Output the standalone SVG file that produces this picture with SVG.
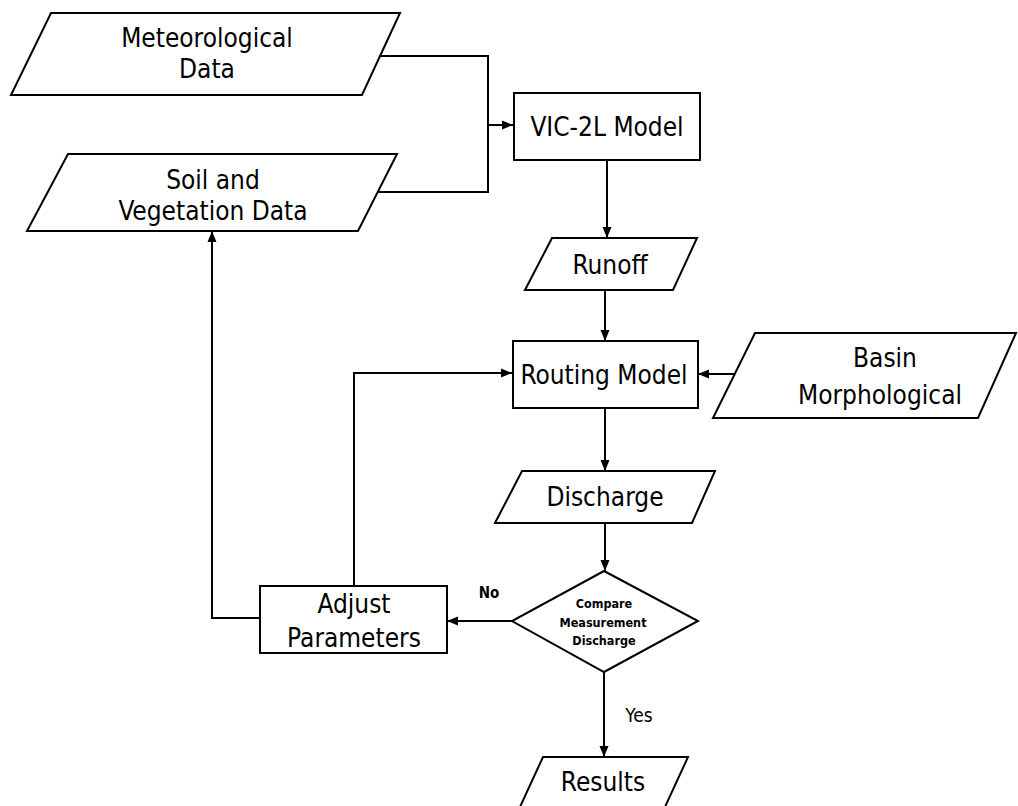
<svg xmlns="http://www.w3.org/2000/svg" width="1018" height="806" viewBox="0 0 1018 806">
<style>
.shape{fill:#fff;stroke:#000;stroke-width:2}
.conn{fill:none;stroke:#000;stroke-width:2}
.t{font-family:"DejaVu Sans Condensed","DejaVu Sans",sans-serif;font-size:26px;fill:#000;text-anchor:middle}
.s{font-family:"DejaVu Sans Condensed","DejaVu Sans",sans-serif;font-size:12.5px;font-weight:bold;fill:#000;text-anchor:middle}
.no{font-family:"DejaVu Sans Condensed","DejaVu Sans",sans-serif;font-size:15px;font-weight:bold;fill:#000;text-anchor:middle}
.yes{font-family:"DejaVu Sans Condensed","DejaVu Sans",sans-serif;font-size:19px;fill:#000;text-anchor:middle}
</style>
<defs>
<marker id="arr" markerUnits="userSpaceOnUse" markerWidth="12" markerHeight="10" refX="11" refY="5" orient="auto">
<path d="M0,0.5 L11,5 L0,9.5 z" fill="#000"/>
</marker>
</defs>
<rect width="1018" height="806" fill="#fff"/>
<g id="connectors">
<path class="conn" d="M380,56 H488 V192 H378"/>
<path class="conn" d="M488,125 H513" marker-end="url(#arr)"/>
<path class="conn" d="M607,160 V238" marker-end="url(#arr)"/>
<path class="conn" d="M605,290 V341" marker-end="url(#arr)"/>
<path class="conn" d="M735,374 H698" marker-end="url(#arr)"/>
<path class="conn" d="M605,408 V471" marker-end="url(#arr)"/>
<path class="conn" d="M605,523 V571" marker-end="url(#arr)"/>
<path class="conn" d="M512,621 H447" marker-end="url(#arr)"/>
<path class="conn" d="M354,586 V373 H512" marker-end="url(#arr)"/>
<path class="conn" d="M260,618 H212 V231" marker-end="url(#arr)"/>
<path class="conn" d="M604,672 V757" marker-end="url(#arr)"/>
<text class="no" x="489" y="598">No</text>
<text class="yes" x="639" y="722">Yes</text>
</g>
<g id="met">
<polygon class="shape" points="51,13 400,13 362,95 11,95"/>
<text class="t" x="207" y="47">Meteorological</text>
<text class="t" x="207" y="78">Data</text>
</g>
<g id="soil">
<polygon class="shape" points="68,154 397,154 358,231 27,231"/>
<text class="t" x="213" y="189">Soil and</text>
<text class="t" x="213" y="220">Vegetation Data</text>
</g>
<g id="vic">
<rect class="shape" x="514" y="93" width="186" height="67"/>
<text class="t" x="607" y="136">VIC-2L Model</text>
</g>
<g id="runoff">
<polygon class="shape" points="552,238 697,238 673,290 525,290"/>
<text class="t" x="610" y="274">Runoff</text>
</g>
<g id="routing">
<rect class="shape" x="513" y="341" width="185" height="67"/>
<text class="t" x="604" y="384">Routing Model</text>
</g>
<g id="basin">
<polygon class="shape" points="755,333 1016,333 978,418 713,418"/>
<text class="t" x="885" y="367">Basin</text>
<text class="t" x="880" y="404">Morphological</text>
</g>
<g id="discharge">
<polygon class="shape" points="522,471 715,471 692,523 495,523"/>
<text class="t" x="605" y="506">Discharge</text>
</g>
<g id="compare">
<polygon class="shape" points="604,571 698,621 604,672 512,621"/>
<text class="s" x="604" y="608">Compare</text>
<text class="s" x="603" y="627">Measurement</text>
<text class="s" x="604" y="645">Discharge</text>
</g>
<g id="adjust">
<rect class="shape" x="260" y="586" width="187" height="67"/>
<text class="t" x="354" y="613">Adjust</text>
<text class="t" x="354" y="647">Parameters</text>
</g>
<g id="results">
<polygon class="shape" points="543,757 688,757 659,820 514,820"/>
<text class="t" x="603" y="791">Results</text>
</g>
</svg>
